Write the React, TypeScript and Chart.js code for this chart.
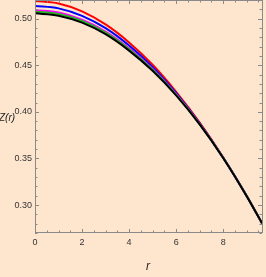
import React, { useEffect, useRef } from "react";
import { Chart, registerables } from "chart.js";
Chart.register(...registerables);

const R = [0, 1, 2, 3, 4, 5, 6, 7, 8, 9, 9.65];
const redZ = [0.519, 0.5162, 0.5078, 0.4938, 0.4745, 0.4505, 0.4215, 0.3885, 0.351, 0.3097, 0.2805];
const blueZ = [0.5136, 0.511, 0.503, 0.4898, 0.4712, 0.448, 0.42, 0.3877, 0.3509, 0.3097, 0.2805];
const magentaZ = [0.509, 0.5065, 0.4989, 0.4862, 0.4683, 0.446, 0.419, 0.3872, 0.3508, 0.3097, 0.2805];
const greenZ = [0.5075, 0.505, 0.4975, 0.4849, 0.4671, 0.4451, 0.4184, 0.3869, 0.3508, 0.3097, 0.2805];
const blackZ = [0.5057, 0.5032, 0.4957, 0.4833, 0.4657, 0.444, 0.4177, 0.3865, 0.3505, 0.3095, 0.2805];
const xTicks = [0, 2, 4, 6, 8];
const yTicks = [0.3, 0.35, 0.4, 0.45, 0.5];

const BG = "rgb(254,230,206)";
const AXIS = "#8a8a8a";
const FONT = "'Liberation Sans Narrow', 'Liberation Sans', Arial, sans-serif";

const pts = (ys: number[]) => R.map((x, i) => ({ x, y: ys[i] }));

const framePlugin = {
  id: "frame",
  beforeDraw(chart: any) {
    const c = chart.ctx;
    c.save();
    c.fillStyle = BG;
    c.fillRect(0, 0, chart.width, chart.height);
    c.restore();
  },
  afterDraw(chart: any) {
    const c = chart.ctx;
    const a = chart.chartArea;
    const xs = chart.scales.x;
    const ys = chart.scales.y;
    c.save();
    c.strokeStyle = AXIS;
    c.lineWidth = 1;
    c.strokeRect(Math.round(a.left) + 0.5, Math.round(a.top) + 0.5, Math.round(a.right - a.left), Math.round(a.bottom - a.top) - 1);
    c.beginPath();
    for (let i = 0; i <= 19; i++) {
      const v = i * 0.5;
      if (v > xs.max) break;
      const px = Math.round(xs.getPixelForValue(v)) + 0.5;
      const len = i % 4 === 0 ? 4 : 2.5;
      c.moveTo(px, a.bottom);
      c.lineTo(px, a.bottom - len);
      c.moveTo(px, a.top);
      c.lineTo(px, a.top + len);
    }
    for (let i = 27; i <= 52; i++) {
      const v = i / 100;
      const py = Math.round(ys.getPixelForValue(v)) + 0.5;
      const len = i % 5 === 0 ? 4 : 2.5;
      c.moveTo(a.left, py);
      c.lineTo(a.left + len, py);
      c.moveTo(a.right, py);
      c.lineTo(a.right - len, py);
    }
    c.stroke();
    c.fillStyle = "#222";
    c.font = "italic 10px 'Liberation Sans Narrow', 'Liberation Sans', Arial, sans-serif";
    c.textAlign = "center";
    c.textBaseline = "middle";
    c.fillText("Z(r)", 7, 118);
    c.font = "italic 12px 'Liberation Sans', Arial, sans-serif";
    c.fillText("r", 148, 267);
    c.restore();
  },
};

export default function App() {
  const ref = useRef<HTMLCanvasElement>(null);
  useEffect(() => {
    document.body.style.margin = "0";
    const mk = (label: string, data: number[], color: string) => ({
      label,
      data: pts(data),
      borderColor: color,
      backgroundColor: color,
      borderWidth: 2,
      pointRadius: 0,
      cubicInterpolationMode: "monotone" as const,
      fill: false,
    });
    const chart = new Chart(ref.current!, {
      type: "line",
      data: {
        datasets: [
          mk("black", blackZ, "#000000"),
          mk("green", greenZ, "#1fb81f"),
          mk("magenta", magentaZ, "#ff00ff"),
          mk("blue", blueZ, "#0000ff"),
          mk("red", redZ, "#ff0000"),
        ],
      },
      options: {
        animation: false,
        responsive: false,
        maintainAspectRatio: false,
        layout: { padding: { top: 0, right: 4, left: 0, bottom: 0 } },
        plugins: { legend: { display: false }, tooltip: { enabled: false } },
        scales: {
          x: {
            type: "linear",
            min: 0,
            max: 9.65,
            afterFit: (s: any) => { s.height = 44; s.paddingLeft = 0; s.paddingRight = 0; },
            afterBuildTicks: (s: any) => { s.ticks = xTicks.map((v) => ({ value: v })); },
            grid: { display: false, drawTicks: false },
            border: { display: false },
            ticks: { padding: 4, color: "#333", font: { family: FONT, size: 9 }, maxRotation: 0, callback: (v: any) => String(v) },
          },
          y: {
            type: "linear",
            min: 0.27,
            max: 0.52,
            afterFit: (s: any) => { s.width = 35; s.paddingTop = 0; s.paddingBottom = 0; },
            afterBuildTicks: (s: any) => { s.ticks = yTicks.map((v) => ({ value: v })); },
            grid: { display: false, drawTicks: false },
            border: { display: false },
            ticks: { padding: 3, color: "#333", font: { family: FONT, size: 9 }, callback: (v: any) => Number(v).toFixed(2) },
          },
        },
      },
      plugins: [framePlugin],
    });
    return () => chart.destroy();
  }, []);
  return (
    <div style={{ position: "fixed", left: 0, top: 0, width: 266, height: 277, background: BG }}>
      <canvas ref={ref} width={266} height={277} style={{ display: "block" }} />
    </div>
  );
}
